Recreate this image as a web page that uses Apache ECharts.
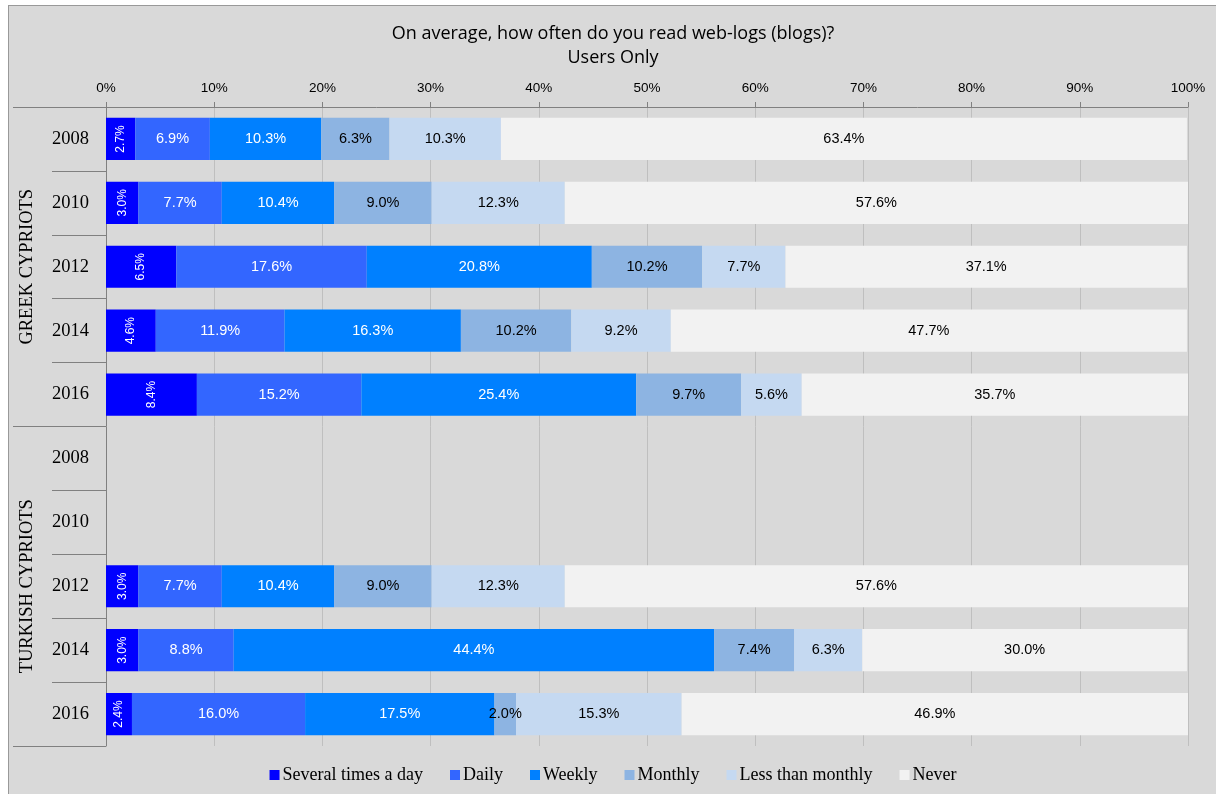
<!DOCTYPE html>
<html>
<head>
<meta charset="utf-8">
<script src="https://cdn.jsdelivr.net/npm/echarts@6/dist/echarts.min.js"></script>
<style>
  body { margin: 0; background: #fff; }
  #main {
    position: absolute; left: 8px; top: 5px;
    width: 1210px; height: 790px; box-sizing: border-box;
    border: 1px solid #999; background: #d9d9d9;
  }
</style>
</head>
<body>
<div id="main"></div>
<script>
// rows top to bottom
const years = ['2008', '2010', '2012', '2014', '2016', '2008', '2010', '2012', '2014', '2016'];
const groups = ['GREEK CYPRIOTS', 'TURKISH CYPRIOTS'];
const seriesNames = ['Several times a day', 'Daily', 'Weekly', 'Monthly', 'Less than monthly', 'Never'];
const colors = ['#0000ff', '#3366ff', '#0080ff', '#8db4e2', '#c5d9f1', '#f2f2f2'];

const severalTimes = [2.7, 3.0, 6.5, 4.6, 8.4, null, null, 3.0, 3.0, 2.4];
const daily        = [6.9, 7.7, 17.6, 11.9, 15.2, null, null, 7.7, 8.8, 16.0];
const weekly       = [10.3, 10.4, 20.8, 16.3, 25.4, null, null, 10.4, 44.4, 17.5];
const monthly      = [6.3, 9.0, 10.2, 10.2, 9.7, null, null, 9.0, 7.4, 2.0];
const lessMonthly  = [10.3, 12.3, 7.7, 9.2, 5.6, null, null, 12.3, 6.3, 15.3];
const never        = [63.4, 57.6, 37.1, 47.7, 35.7, null, null, 57.6, 30.0, 46.9];

const values = [severalTimes, daily, weekly, monthly, lessMonthly, never];
const labelColors = ['#fff', '#fff', '#fff', '#000', '#000', '#000'];

const chart = echarts.init(document.getElementById('main'));

const series = values.map((vals, i) => ({
  name: seriesNames[i],
  type: 'bar',
  stack: 'total',
  data: vals,
  barCategoryGap: '34%',
  itemStyle: { color: colors[i] },
  label: {
    show: true,
    position: 'inside',
    rotate: i === 0 ? 90 : 0,
    color: labelColors[i],
    fontFamily: 'Liberation Sans',
    fontSize: i === 0 ? 12 : 14.5,
    formatter: p => p.value == null ? '' : p.value.toFixed(1) + '%'
  }
}));

chart.setOption({
  animation: false,
  title: {
    text: 'On average, how often do you read web-logs (blogs)?\nUsers Only',
    left: 'center',
    top: 11,
    textStyle: { fontFamily: 'Open Sans', fontSize: 18, fontWeight: 'normal', color: '#000', lineHeight: 24 }
  },
  legend: {
    data: seriesNames,
    bottom: 5,
    left: 'center',
    icon: 'rect',
    itemWidth: 10,
    itemHeight: 10,
    itemGap: 27,
    textStyle: { fontFamily: 'Liberation Serif', fontSize: 18, color: '#000', padding: [0, 0, 0, -2] }
  },
  grid: { left: 97, right: 29, top: 101, bottom: 48 },
  xAxis: {
    type: 'value',
    position: 'top',
    min: 0,
    max: 100,
    interval: 10,
    axisLine: { show: true, lineStyle: { color: '#808080' } },
    axisTick: { show: true, length: 5, lineStyle: { color: '#808080' } },
    splitLine: { show: true, lineStyle: { color: '#bfbfbf' } },
    axisLabel: {
      formatter: '{value}%',
      color: '#000',
      fontFamily: 'Liberation Sans',
      fontSize: 13.5,
      margin: 12
    }
  },
  yAxis: [
    {
      type: 'category',
      inverse: true,
      data: years,
      axisLine: { show: true, lineStyle: { color: '#808080' } },
      axisTick: { show: true, length: 54, lineStyle: { color: '#808080' } },
      axisLabel: { color: '#000', fontFamily: 'Liberation Serif', fontSize: 18.5, margin: 17 }
    },
    {
      type: 'category',
      inverse: true,
      position: 'left',
      data: groups,
      axisLine: { show: false },
      axisTick: { show: true, length: 93, lineStyle: { color: '#808080' } },
      axisLabel: { rotate: 90, color: '#000', fontFamily: 'Liberation Serif', fontSize: 18.5, margin: 69 }
    }
  ],
  series: series
});
</script>
</body>
</html>
